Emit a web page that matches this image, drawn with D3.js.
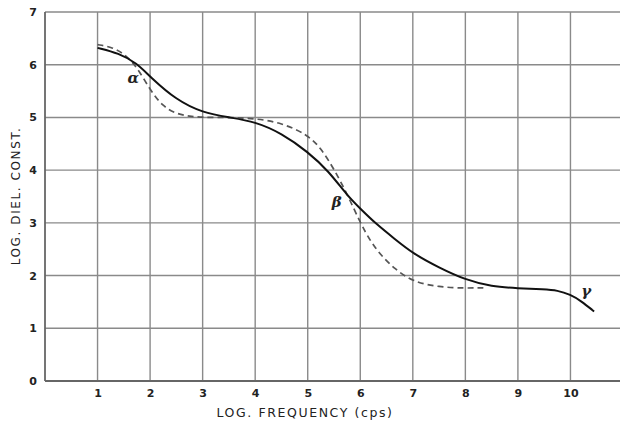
<!DOCTYPE html>
<html>
<head>
<meta charset="utf-8">
<script src="https://cdn.jsdelivr.net/npm/d3@7/dist/d3.min.js"></script>
<style>
  html, body { margin: 0; padding: 0; background: #fff; }
  svg { display: block; }
  text { font-family: "DejaVu Sans", sans-serif; fill: #222; }
</style>
</head>
<body>
<svg id="chart" width="620" height="432"></svg>
<script>
// Curve samples: log frequency vs. log dielectric constant
const solidX  = [1, 1.4, 1.75, 2.0, 2.5, 3.0, 3.5, 4.0, 4.5, 5.0, 5.4, 5.75, 6.0, 6.3, 6.65, 7.0, 7.5, 8.0, 8.5, 9.0, 9.5, 9.75, 10.0, 10.2, 10.45];
const solidY  = [6.32, 6.22, 6.03, 5.77, 5.33, 5.09, 5.0, 4.92, 4.7, 4.35, 3.98, 3.52, 3.27, 2.98, 2.70, 2.42, 2.15, 1.92, 1.79, 1.76, 1.74, 1.72, 1.64, 1.52, 1.32];
const dashedX = [1, 1.25, 1.5, 1.75, 2.0, 2.25, 2.5, 2.75, 3.0, 3.5, 4.0, 4.5, 5.0, 5.25, 5.5, 5.75, 6.0, 6.2, 6.4, 6.65, 7.0, 7.5, 8.0, 8.4];
const dashedY = [6.38, 6.34, 6.22, 5.96, 5.52, 5.20, 5.07, 5.02, 5.0, 5.0, 4.98, 4.9, 4.67, 4.42, 4.02, 3.55, 3.0, 2.64, 2.38, 2.13, 1.88, 1.78, 1.76, 1.77];

const xTicks = [1, 2, 3, 4, 5, 6, 7, 8, 9, 10];
const yTicks = [0, 1, 2, 3, 4, 5, 6, 7];

// Region labels placed at data coordinates
const regionNames = ["α", "β", "γ"];
const regionX     = [1.68, 5.55, 10.3];
const regionY     = [5.65, 3.3, 1.62];

const svg = d3.select("#chart");
const x = d3.scaleLinear().domain([0, 11]).range([45, 623]);
const y = d3.scaleLinear().domain([0, 7]).range([381, 12]);

// Grid
const grid = svg.append("g");
grid.selectAll("line.v").data(xTicks).join("line")
  .attr("x1", d => x(d)).attr("x2", d => x(d))
  .attr("y1", y(7)).attr("y2", y(0))
  .attr("stroke", "#8a8a8a").attr("stroke-width", 1.4);
grid.selectAll("line.h").data(yTicks).join("line")
  .attr("x1", x(0)).attr("x2", 620)
  .attr("y1", d => y(d)).attr("y2", d => y(d))
  .attr("stroke", d => d === 0 ? "#666" : "#8a8a8a")
  .attr("stroke-width", d => d === 0 ? 1.8 : 1.4);
// Left axis line
svg.append("line")
  .attr("x1", x(0)).attr("x2", x(0)).attr("y1", y(7)).attr("y2", y(0))
  .attr("stroke", "#666").attr("stroke-width", 1.8);

// Tick labels via d3 axes (lines hidden)
const xAxis = svg.append("g").attr("transform", `translate(0,${y(0)})`)
  .call(d3.axisBottom(x).tickValues(xTicks).tickFormat(d3.format("d")).tickSize(0).tickPadding(8));
const yAxis = svg.append("g").attr("transform", `translate(${x(0)},0)`)
  .call(d3.axisLeft(y).tickValues(yTicks).tickFormat(d3.format("d")).tickSize(0).tickPadding(8));
[xAxis, yAxis].forEach(g => {
  g.select(".domain").remove();
  g.selectAll("text")
    .style("font-family", "'DejaVu Sans', sans-serif")
    .style("font-size", "11px").style("font-weight", "bold").attr("fill", "#222");
});

// Curves
const line = d3.line().x(d => x(d[0])).y(d => y(d[1])).curve(d3.curveBasis);
const solidPts  = solidX.map((v, i) => [v, solidY[i]]);
const dashedPts = dashedX.map((v, i) => [v, dashedY[i]]);

svg.append("path").datum(dashedPts).attr("d", line)
  .attr("fill", "none").attr("stroke", "#555").attr("stroke-width", 1.7)
  .attr("stroke-dasharray", "6,4");
svg.append("path").datum(solidPts).attr("d", line)
  .attr("fill", "none").attr("stroke", "#111").attr("stroke-width", 2);

// Region labels
svg.selectAll("text.region").data(regionNames).join("text")
  .attr("class", "region")
  .attr("x", (d, i) => x(regionX[i])).attr("y", (d, i) => y(regionY[i]))
  .attr("text-anchor", "middle")
  .style("font-family", "'DejaVu Serif', serif")
  .style("font-style", "italic").style("font-weight", "bold")
  .style("font-size", "15px").attr("fill", "#111")
  .text(d => d);

// Axis titles
svg.append("text")
  .attr("x", 305).attr("y", 417).attr("text-anchor", "middle")
  .style("font-size", "12.5px").style("letter-spacing", "1.6px")
  .text("LOG. FREQUENCY (cps)");
svg.append("text")
  .attr("transform", `translate(20,196) rotate(-90)`).attr("text-anchor", "middle")
  .style("font-size", "12px").style("letter-spacing", "1.6px")
  .text("LOG. DIEL. CONST.");
</script>
</body>
</html>
